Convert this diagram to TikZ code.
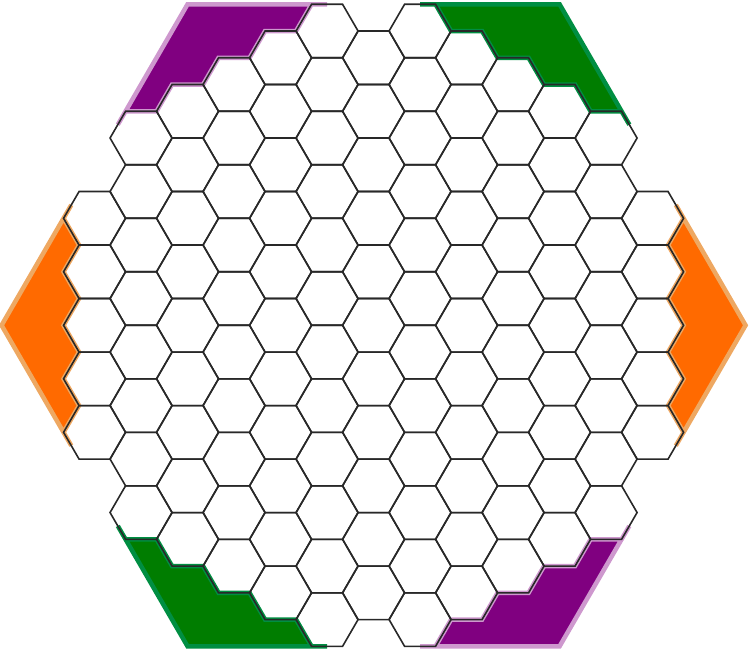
\documentclass[tikz,border=0pt]{standalone}
\usepackage{tikz}

\definecolor{zonepurple}{RGB}{128,0,128}
\definecolor{zonepurplelight}{RGB}{206,152,206}
\definecolor{zonegreen}{RGB}{0,125,0}
\definecolor{zonegreenlight}{RGB}{0,142,66}
\definecolor{zoneorange}{RGB}{255,106,0}
\definecolor{zoneorangelight}{RGB}{238,168,98}
\definecolor{gridline}{RGB}{40,40,40}

% corner and side zones, drawn in the upper left / left and mirrored
\newcommand{\cornerzone}{(-8.25,7.5) -- (-8,8) -- (-7,8) -- (-6.5,9) -- (-5.5,9) -- (-5,10) -- (-4,10) -- (-3.5,11) -- (-2.5,11) -- (-2,12) -- (-1.5,12) -- (-6,12) -- cycle}
\newcommand{\sidezone}{(-9.75,4.5) -- (-10,4) -- (-9.5,3) -- (-10,2) -- (-9.5,1) -- (-10,0) -- (-9.5,-1) -- (-10,-2) -- (-9.5,-3) -- (-10,-4) -- (-9.75,-4.5) -- (-12,0) -- cycle}

\begin{document}
\begin{tikzpicture}[
  x=31pt, y=26.75pt,
  cell/.style={draw=gridline, line width=1.6pt},
  purplezone/.style={fill=zonepurple, draw=zonepurplelight, line width=4.5pt},
  greenzone/.style={fill=zonegreen, draw=zonegreenlight, line width=4.5pt},
  orangezone/.style={fill=zoneorange, draw=zoneorangelight, line width=4.5pt}
]
\useasboundingbox (-12.05,-12.22) rectangle (12.11,12.16);

% --- 1. Zones ---
\filldraw[purplezone] \cornerzone;
\begin{scope}[xscale=-1]
  \filldraw[greenzone] \cornerzone;
\end{scope}
\begin{scope}[yscale=-1]
  \filldraw[greenzone] \cornerzone;
\end{scope}
\begin{scope}[scale=-1]
  \filldraw[purplezone] \cornerzone;
\end{scope}
\filldraw[orangezone] \sidezone;
\begin{scope}[xscale=-1]
  \filldraw[orangezone] \sidezone;
\end{scope}

% --- 2. Board cells (column / half height) ---
\foreach \c/\m in {-6/4,-5/7,-4/8,-3/9,-2/10,-1/11,0/10,1/11,2/10,3/9,4/8,5/7,6/4}
  \foreach \i in {0,...,\m}
    \draw[cell] ({1.5*\c},{2*\i-\m}) +(-1,0) -- +(-0.5,1) -- +(0.5,1) -- +(1,0) -- +(0.5,-1) -- +(-0.5,-1) -- cycle;

\end{tikzpicture}
\end{document}
